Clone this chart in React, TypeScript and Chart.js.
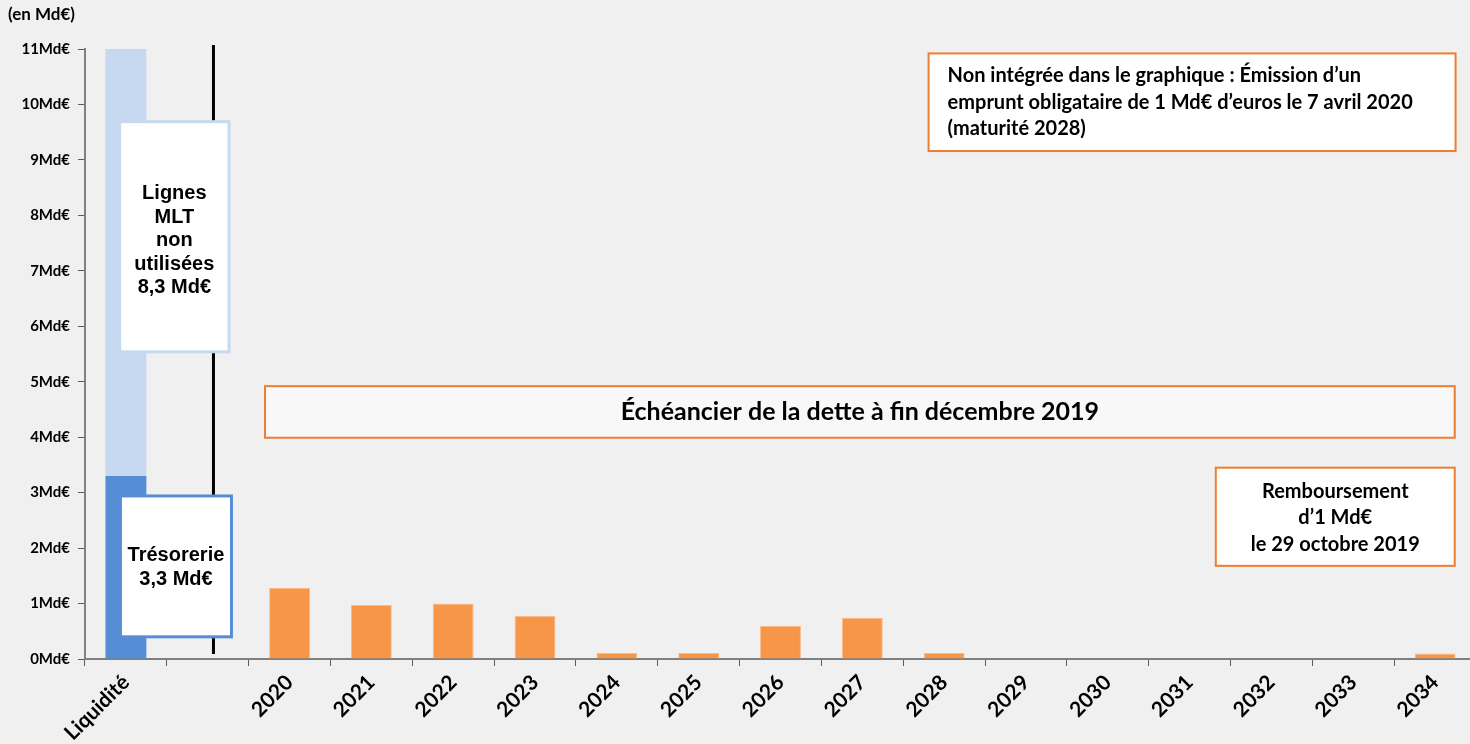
import React, { useEffect, useRef } from "react";
import { Chart, registerables } from "chart.js";

Chart.register(...registerables);

// ---- data ----
const categories = ["Liquidité", "", "2020", "2021", "2022", "2023", "2024", "2025", "2026", "2027", "2028", "2029", "2030", "2031", "2032", "2033", "2034"];
const tresorerie = [3.3, null, null, null, null, null, null, null, null, null, null, null, null, null, null, null, null];
const lignesMLT = [8.3, null, null, null, null, null, null, null, null, null, null, null, null, null, null, null, null];
const echeances = [null, null, 1.28, 0.98, 1.0, 0.78, 0.11, 0.11, 0.6, 0.74, 0.11, 0, 0, 0, 0, 0, 0.1];
const yTicks = [0, 1, 2, 3, 4, 5, 6, 7, 8, 9, 10, 11];
const unitLabel = "(en Md€)";

const CAL = "Lato, 'Open Sans', sans-serif";
const ARIAL = "'Liberation Sans', Arial, sans-serif";

type Box = {
  x0: number; x1: number; y0: number; y1: number;
  fill: string; stroke: string; lw: number;
  lines: string[]; font: string; lineH: number; align: "center" | "left"; padX?: number; dy?: number;
};

const boxes: Box[] = [
  { x0: -0.076, x1: 1.26, y0: 9.69, y1: 5.54, fill: "#ffffff", stroke: "#c6d9f1", lw: 3, lines: ["Lignes", "MLT", "non", "utilisées", "8,3 Md€"], font: `bold 20px ${ARIAL}`, lineH: 23.5, align: "center", dy: 4 },
  { x0: -0.067, x1: 1.29, y0: 2.94, y1: 0.40, fill: "#ffffff", stroke: "#558ed5", lw: 3, lines: ["Trésorerie", "3,3 Md€"], font: `bold 20px ${ARIAL}`, lineH: 23.5, align: "center", dy: 1 },
  { x0: 9.81, x1: 16.25, y0: 10.92, y1: 9.16, fill: "#ffffff", stroke: "#ed7d31", lw: 2, lines: ["Non intégrée dans le graphique : Émission d’un", "emprunt obligataire de 1 Md€ d’euros le 7 avril 2020", "(maturité 2028)"], font: `bold 20px ${CAL}`, lineH: 26.5, align: "left", padX: 19, dy: 0 },
  { x0: 1.70, x1: 16.24, y0: 4.92, y1: 3.99, fill: "#f8f8f8", stroke: "#ed7d31", lw: 2, lines: ["Échéancier de la dette à fin décembre 2019"], font: `bold 25px ${CAL}`, lineH: 28, align: "center", dy: 0 },
  { x0: 13.32, x1: 16.24, y0: 3.45, y1: 1.68, fill: "#ffffff", stroke: "#ed7d31", lw: 2, lines: ["Remboursement", "d’1 Md€", "le 29 octobre 2019"], font: `bold 20px ${CAL}`, lineH: 26.5, align: "center", dy: 1 },
];

const overlayPlugin = {
  id: "overlay",
  afterDatasetsDraw(chart: any) {
    const { ctx } = chart;
    const xs = chart.scales.x;
    const ys = chart.scales.y;
    const catW = xs.getPixelForValue(1) - xs.getPixelForValue(0);
    const px = (v: number) => xs.getPixelForValue(0) + v * catW;
    // separator line
    ctx.save();
    ctx.strokeStyle = "#000000";
    ctx.lineWidth = 3;
    ctx.beginPath();
    ctx.moveTo(px(1.07), ys.getPixelForValue(11.07));
    ctx.lineTo(px(1.07), ys.getPixelForValue(0.09));
    ctx.stroke();
    // boxes
    for (const b of boxes) {
      const l = px(b.x0), r = px(b.x1);
      const t = ys.getPixelForValue(b.y0), bt = ys.getPixelForValue(b.y1);
      ctx.fillStyle = b.fill;
      ctx.fillRect(l, t, r - l, bt - t);
      ctx.strokeStyle = b.stroke;
      ctx.lineWidth = b.lw;
      ctx.strokeRect(l, t, r - l, bt - t);
      ctx.fillStyle = "#000000";
      ctx.font = b.font;
      ctx.textBaseline = "middle";
      ctx.textAlign = b.align;
      const cy = (t + bt) / 2 + (b.dy || 0);
      const start = cy - ((b.lines.length - 1) * b.lineH) / 2;
      const tx = b.align === "left" ? l + (b.padX || 0) : (l + r) / 2;
      b.lines.forEach((s, i) => ctx.fillText(s, tx, start + i * b.lineH));
    }
    // unit label
    ctx.font = `bold 17px ${CAL}`;
    ctx.textAlign = "left";
    ctx.textBaseline = "middle";
    ctx.fillStyle = "#000000";
    ctx.fillText(unitLabel, 8, 15);
    ctx.restore();
  },
};

export default function App() {
  const ref = useRef<HTMLCanvasElement | null>(null);
  useEffect(() => {
    if (!ref.current) return;
    const chart = new Chart(ref.current, {
      type: "bar",
      data: {
        labels: categories,
        datasets: [
          { label: "Trésorerie", data: tresorerie as any, backgroundColor: "#558ed5", borderWidth: 0, barPercentage: 0.5, categoryPercentage: 1 },
          { label: "Lignes MLT non utilisées", data: lignesMLT as any, backgroundColor: "#c6d9f1", borderWidth: 0, barPercentage: 0.5, categoryPercentage: 1 },
          { label: "Échéances", data: echeances as any, backgroundColor: "#f79646", borderColor: "#fbb98a", borderWidth: 1, barPercentage: 0.5, categoryPercentage: 1 },
        ],
      },
      options: {
        responsive: false,
        animation: false,
        devicePixelRatio: 1,
        layout: { padding: { top: 49, right: 0, left: 0, bottom: 0 } },
        plugins: { legend: { display: false }, tooltip: { enabled: false } },
        scales: {
          x: {
            stacked: true,
            grid: { display: true, drawOnChartArea: false, drawTicks: true, tickLength: 7, color: "#595959", offset: true },
            border: { display: true, color: "#7f7f7f", width: 2 },
            ticks: { autoSkip: false, minRotation: 45, maxRotation: 45, padding: 4, color: "#000000", font: { family: CAL, size: 21, weight: "bold" } },
            afterFit: (s: any) => { s.height = 85; s.paddingLeft = 0; s.paddingRight = 0; },
          },
          y: {
            stacked: true,
            min: 0,
            max: 11,
            afterBuildTicks: (s: any) => { s.ticks = yTicks.map((v) => ({ value: v })); },
            grid: { display: true, drawOnChartArea: false, drawTicks: true, tickLength: 7, color: "#595959" },
            border: { display: true, color: "#7f7f7f", width: 2 },
            ticks: { padding: 8, color: "#000000", font: { family: CAL, size: 15, weight: "bold" }, callback: (v: any) => `${v}Md€` },
            afterFit: (s: any) => { s.width = 85; s.paddingTop = 0; s.paddingBottom = 0; },
          },
        },
      },
      plugins: [overlayPlugin],
    });
    return () => chart.destroy();
  }, []);
  return (
    <div style={{ position: "fixed", left: 0, top: 0, width: 1470, height: 744, overflow: "hidden", background: "#f0f0f0" }}>
      <canvas ref={ref} width={1476} height={744} style={{ display: "block" }} />
    </div>
  );
}
